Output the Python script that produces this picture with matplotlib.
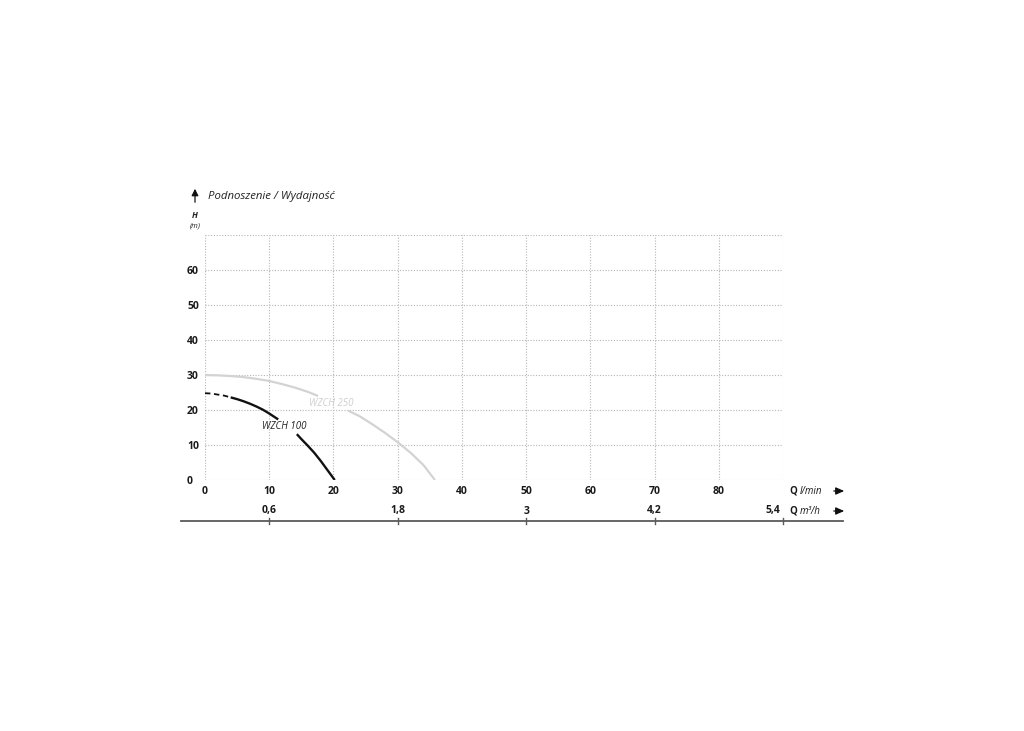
import matplotlib
matplotlib.use("Agg")
import matplotlib.pyplot as plt
from matplotlib.transforms import blended_transform_factory
from matplotlib.lines import Line2D
from matplotlib.patches import FancyArrowPatch

plt.rcParams['font.family'] = ['Open Sans', 'DejaVu Sans']

# Data
q_lmin_ticks = [0, 10, 20, 30, 40, 50, 60, 70, 80]
h_ticks = [0, 10, 20, 30, 40, 50, 60]
q_m3h_labels = ["0,6", "1,8", "3", "4,2", "5,4"]
q_m3h_pos_lmin = [10, 30, 50, 70, 90]

wzch100_dash_q = [0, 1, 2, 3, 4]
wzch100_dash_h = [24.8, 24.7, 24.4, 24.1, 23.6]
wzch100_a_q = [4, 5, 6, 7, 8, 9, 10, 11.4]
wzch100_a_h = [23.6, 23.1, 22.5, 21.8, 21.0, 20.1, 19.0, 17.3]
wzch100_b_q = [14.3, 15, 16, 17, 18, 19, 20.2]
wzch100_b_h = [13.1, 11.7, 9.8, 7.8, 5.5, 3.0, 0]

wzch250_a_q = [0, 2, 4, 6, 8, 10, 12, 14, 16, 17.6]
wzch250_a_h = [30, 29.9, 29.7, 29.4, 28.9, 28.3, 27.4, 26.4, 25.2, 24.0]
wzch250_b_q = [22.3, 24, 26, 28, 30, 32, 34, 35.8]
wzch250_b_h = [19.8, 18.3, 16.0, 13.5, 10.8, 7.8, 4.3, 0]

W, H = 1024, 731
fig = plt.figure(figsize=(W/100, H/100), dpi=100)
fig.patch.set_facecolor('white')

def fx(px):
    return px / W

def fy(py):
    return 1 - py / H

ax = fig.add_axes([fx(205), fy(480), fx(783) - fx(205), fy(235) - fy(480)])
ax.set_xlim(0, 90)
ax.set_ylim(0, 70)
for s in ax.spines.values():
    s.set_visible(False)

grid_kw = dict(color='#b5b5b5', lw=0.8, ls=(0, (1, 1.5)), zorder=0)
for x in range(0, 91, 10):
    ax.axvline(x, **grid_kw)
for y in range(0, 71, 10):
    ax.axhline(y, **grid_kw)

ax.set_xticks(q_lmin_ticks)
ax.set_yticks(h_ticks)
ax.set_yticklabels([])
ax.tick_params(length=0, labelsize=7.5, colors='#1a1a1a')
ax.tick_params(axis='x', pad=4)
for lab in ax.get_xticklabels():
    lab.set_fontweight('bold')

ytrans = blended_transform_factory(fig.transFigure, ax.transData)
for h in h_ticks:
    fig.text(fx(187), h - 0.3, str(h), transform=ytrans, fontsize=7.5, fontweight='bold',
             color='#1a1a1a', ha='left', va='center')

# curves
ax.plot(wzch250_a_q, wzch250_a_h, color='#d3d3d3', lw=1.6, solid_capstyle='butt')
ax.plot(wzch250_b_q, wzch250_b_h, color='#d3d3d3', lw=1.6, solid_capstyle='butt')
ax.plot(wzch100_dash_q, wzch100_dash_h, color='#111111', lw=1.3, ls=(0, (3, 2)))
ax.plot(wzch100_a_q, wzch100_a_h, color='#111111', lw=1.7, solid_capstyle='butt')
ax.plot(wzch100_b_q, wzch100_b_h, color='#111111', lw=1.7, solid_capstyle='butt')

ax.text(19.7, 21.9, "WZCH 250", style='italic', fontsize=7, color='#cfcfcf',
        ha='center', va='center')
ax.text(12.3, 15.2, "WZCH 100", style='italic', fontsize=7, color='#222222',
        ha='center', va='center')

# title and axis labels
fig.add_artist(FancyArrowPatch(
    (fx(195), fy(205)), (fx(195), fy(186)), transform=fig.transFigure,
    arrowstyle='-|>,head_length=4,head_width=2', color='#111111', lw=0.9))
fig.text(fx(208), fy(197), "Podnoszenie / Wydajność", style='italic', fontsize=8.2,
         color='#222222', va='center', ha='left')
fig.text(fx(195), fy(215), "H", style='italic', fontweight='bold', fontsize=6,
         color='#222222', va='center', ha='center')
fig.text(fx(195), fy(226), "(m)", style='italic', fontsize=5.5,
         color='#222222', va='center', ha='center')

# bottom second scale
fig.add_artist(Line2D([fx(181), fx(843)], [fy(521), fy(521)], transform=fig.transFigure,
                      color='#5a5a5a', lw=1.3))
trans = blended_transform_factory(ax.transData, fig.transFigure)
for i, (q, lab) in enumerate(zip(q_m3h_pos_lmin, q_m3h_labels)):
    fig.add_artist(Line2D([q, q], [fy(517.5), fy(523.5)], transform=trans,
                          color='#5a5a5a', lw=1.0))
    last = i == len(q_m3h_labels) - 1
    fig.text(q - (0.4 if last else 0), fy(511), lab, transform=trans, fontsize=7.5,
             fontweight='bold', color='#1a1a1a',
             ha='right' if last else 'center', va='center')

# Q labels
for yy, unit in ((491, "l/min"), (511, "m³/h")):
    fig.text(fx(789), fy(yy), "Q", fontsize=7, fontweight='bold', color='#1a1a1a',
             ha='left', va='center')
    fig.text(fx(800), fy(yy), unit, fontsize=7, style='italic', color='#1a1a1a',
             ha='left', va='center')
    fig.add_artist(FancyArrowPatch(
        (fx(831), fy(yy)), (fx(847), fy(yy)), transform=fig.transFigure,
        arrowstyle='-|>,head_length=5,head_width=2.2', color='#111111', lw=0.9))

fig.savefig("out.png", dpi=100, facecolor='white')
